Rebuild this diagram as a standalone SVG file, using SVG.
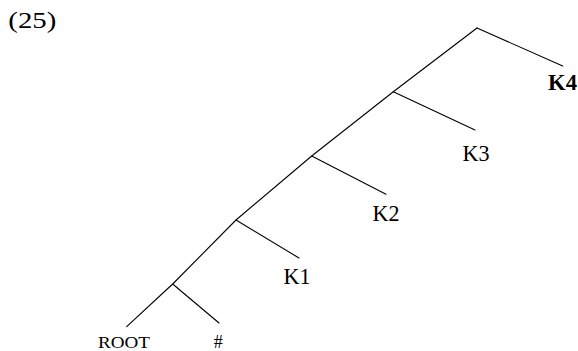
<svg xmlns="http://www.w3.org/2000/svg" width="578" height="351" viewBox="0 0 578 351">
<style>
.e{stroke:#000;stroke-width:1.1;fill:none;stroke-linecap:round;stroke-linejoin:round}
.t{font-family:"Liberation Serif","DejaVu Serif",serif;font-size:24px;fill:#000;text-anchor:middle}
</style>
<rect width="578" height="351" fill="#fff"/>
<text x="8.3" y="28" class="t" style="text-anchor:start" textLength="48" lengthAdjust="spacingAndGlyphs">(25)</text>
<g id="connectors">
<polyline class="e" points="477,28 393.3,91.7 311.7,156 236,220 172.7,284 126.7,326.7"/>
<line class="e" x1="477" y1="28" x2="562.7" y2="66"/>
<line class="e" x1="393.3" y1="91.7" x2="475" y2="130"/>
<line class="e" x1="311.7" y1="156" x2="386" y2="194.3"/>
<line class="e" x1="236" y1="220" x2="299" y2="258"/>
<line class="e" x1="172.7" y1="284" x2="219" y2="323"/>
</g>
<g id="K4"><text x="562.5" y="90" class="t" font-weight="bold" textLength="29" lengthAdjust="spacingAndGlyphs">K4</text></g>
<g id="K3"><text x="476" y="161" class="t" textLength="27" lengthAdjust="spacingAndGlyphs">K3</text></g>
<g id="K2"><text x="386" y="221" class="t" textLength="27" lengthAdjust="spacingAndGlyphs">K2</text></g>
<g id="K1"><text x="297" y="284" class="t" textLength="27" lengthAdjust="spacingAndGlyphs">K1</text></g>
<g id="root"><text x="124" y="347.5" class="t" style="font-size:16px" textLength="52" lengthAdjust="spacingAndGlyphs">ROOT</text></g>
<g id="hash"><text x="218.3" y="347.5" class="t" style="font-size:18px">#</text></g>
</svg>
